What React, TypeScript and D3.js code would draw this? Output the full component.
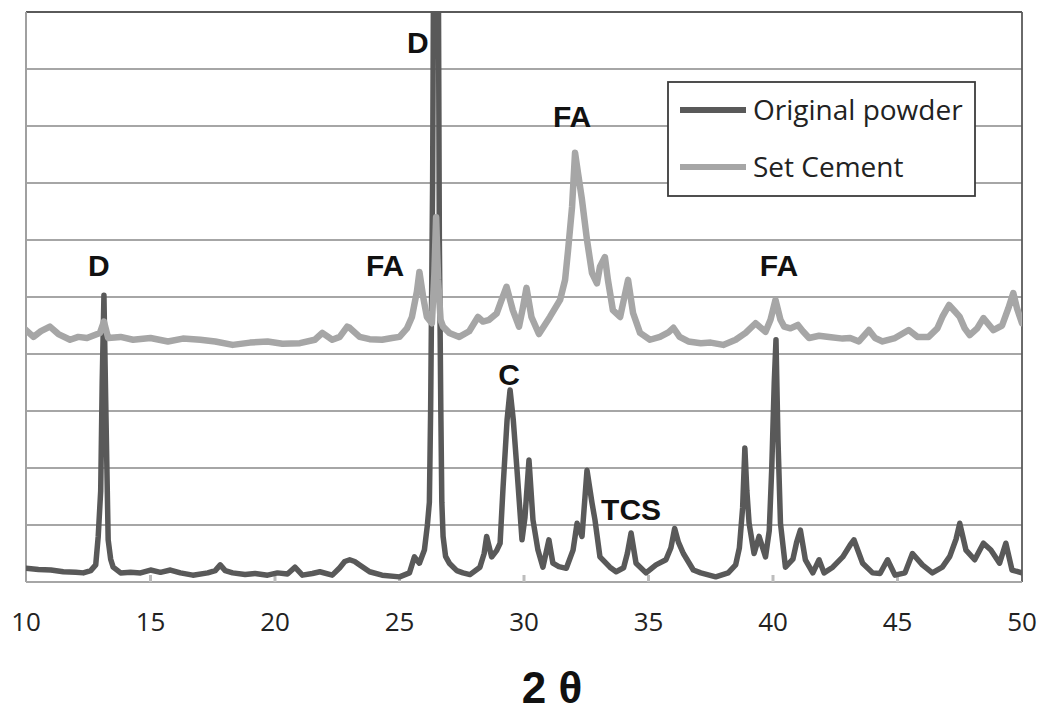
import React from "react";
import * as d3 from "d3";

const originalPowder: [number, number][] = [
  [10.0,0.24],[10.5,0.22],[11.0,0.21],[11.5,0.18],[12.0,0.17],[12.3,0.16],[12.6,0.2],[12.8,0.3],[12.9,0.8],[13.0,1.6],[13.06,3.5],[13.13,5.03],[13.2,3.2],[13.3,0.74],[13.4,0.4],[13.5,0.26],[13.8,0.16],[14.2,0.17],[14.6,0.16],[15.0,0.21],[15.4,0.17],[15.8,0.21],[16.2,0.16],[16.7,0.12],[17.3,0.16],[17.6,0.2],[17.8,0.3],[18.0,0.2],[18.3,0.16],[18.8,0.13],[19.2,0.15],[19.7,0.12],[20.1,0.16],[20.5,0.14],[20.8,0.26],[21.1,0.12],[21.5,0.15],[21.8,0.18],[22.3,0.12],[22.6,0.25],[22.8,0.36],[23.0,0.39],[23.2,0.36],[23.4,0.3],[23.8,0.18],[24.3,0.12],[25.0,0.09],[25.4,0.16],[25.6,0.44],[25.8,0.33],[26.0,0.56],[26.12,1.0],[26.2,1.4],[26.25,3],[26.33,7],[26.38,12],[26.55,12],[26.6,6],[26.66,3],[26.7,1.4],[26.75,0.8],[26.85,0.45],[27.0,0.33],[27.3,0.2],[27.55,0.16],[27.83,0.13],[28.23,0.26],[28.4,0.5],[28.5,0.8],[28.7,0.44],[28.9,0.55],[29.04,0.68],[29.16,1.67],[29.32,2.84],[29.44,3.37],[29.57,2.84],[29.72,1.96],[29.92,0.74],[30.04,1.14],[30.2,2.14],[30.36,1.09],[30.56,0.56],[30.76,0.26],[31.0,0.74],[31.16,0.33],[31.4,0.27],[31.7,0.24],[31.97,0.56],[32.13,1.03],[32.33,0.8],[32.53,1.96],[32.73,1.39],[32.85,1.09],[33.05,0.44],[33.45,0.26],[33.7,0.18],[34.0,0.25],[34.15,0.5],[34.3,0.86],[34.5,0.33],[34.9,0.16],[35.3,0.3],[35.7,0.39],[35.9,0.6],[36.05,0.94],[36.2,0.7],[36.4,0.5],[36.8,0.21],[37.1,0.16],[37.7,0.09],[38.2,0.16],[38.5,0.3],[38.65,0.6],[38.78,1.3],[38.87,2.35],[38.95,1.6],[39.04,1.03],[39.24,0.5],[39.44,0.8],[39.7,0.44],[39.85,0.9],[39.95,2.0],[40.05,3.5],[40.12,4.25],[40.2,2.5],[40.3,1.03],[40.5,0.26],[40.8,0.4],[40.95,0.7],[41.1,0.91],[41.3,0.39],[41.6,0.16],[41.85,0.39],[42.05,0.16],[42.4,0.26],[42.8,0.44],[43.1,0.65],[43.25,0.74],[43.6,0.33],[44.0,0.16],[44.3,0.15],[44.6,0.39],[44.9,0.12],[45.3,0.16],[45.6,0.5],[46.0,0.3],[46.4,0.16],[46.8,0.26],[47.1,0.45],[47.35,0.75],[47.5,1.03],[47.75,0.56],[48.1,0.39],[48.45,0.68],[48.75,0.56],[49.1,0.33],[49.35,0.68],[49.6,0.21],[50.0,0.16]
];

const setCement: [number, number][] = [
  [10.0,4.42],[10.3,4.3],[10.6,4.4],[10.96,4.48],[11.3,4.35],[11.77,4.25],[12.1,4.3],[12.45,4.28],[12.97,4.37],[13.13,4.57],[13.3,4.28],[13.8,4.3],[14.3,4.25],[15.0,4.28],[15.7,4.22],[16.3,4.27],[17.0,4.25],[17.6,4.22],[18.3,4.16],[19.0,4.2],[19.7,4.22],[20.3,4.18],[21.0,4.19],[21.6,4.25],[21.9,4.37],[22.3,4.25],[22.6,4.3],[22.9,4.48],[23.0,4.46],[23.4,4.3],[23.8,4.26],[24.3,4.25],[24.7,4.28],[25.0,4.3],[25.3,4.45],[25.5,4.65],[25.7,5.1],[25.8,5.44],[25.95,5.0],[26.1,4.65],[26.3,4.54],[26.4,5.4],[26.47,6.4],[26.55,5.3],[26.65,4.6],[26.75,4.48],[27.0,4.37],[27.4,4.3],[27.8,4.4],[28.15,4.65],[28.35,4.57],[28.6,4.6],[28.9,4.71],[29.1,4.95],[29.3,5.18],[29.55,4.77],[29.8,4.48],[29.95,4.8],[30.1,5.16],[30.3,4.65],[30.6,4.35],[31.04,4.65],[31.45,4.95],[31.65,5.3],[31.77,5.82],[31.93,6.58],[32.05,7.53],[32.17,7.17],[32.33,6.7],[32.53,6.0],[32.73,5.42],[32.93,5.24],[33.05,5.53],[33.25,5.7],[33.37,5.3],[33.57,4.77],[33.86,4.65],[34.18,5.3],[34.38,4.72],[34.66,4.37],[35.06,4.25],[35.46,4.3],[35.8,4.38],[36.0,4.46],[36.25,4.3],[36.6,4.22],[37.1,4.19],[37.5,4.2],[38.0,4.16],[38.5,4.25],[38.9,4.37],[39.3,4.54],[39.7,4.39],[39.9,4.6],[40.1,4.95],[40.3,4.6],[40.45,4.48],[40.7,4.45],[41.0,4.51],[41.2,4.4],[41.45,4.28],[41.85,4.32],[42.25,4.3],[42.8,4.27],[43.1,4.28],[43.45,4.22],[43.85,4.42],[44.1,4.28],[44.4,4.22],[44.9,4.28],[45.45,4.42],[45.8,4.3],[46.25,4.3],[46.6,4.45],[46.8,4.65],[47.07,4.86],[47.3,4.75],[47.5,4.65],[47.7,4.45],[47.9,4.33],[48.2,4.45],[48.45,4.63],[48.85,4.42],[49.2,4.5],[49.45,4.8],[49.65,5.07],[49.8,4.8],[50.0,4.54]
];

const xTicks = [10, 15, 20, 25, 30, 35, 40, 45, 50];
const yGrid = [1, 2, 3, 4, 5, 6, 7, 8, 9];

const annotations: { label: string; x: number; y: number }[] = [
  { label: "D", x: 12.93, y: 5.37 },
  { label: "D", x: 25.74, y: 9.28 },
  { label: "FA", x: 31.93, y: 7.98 },
  { label: "FA", x: 24.42, y: 5.37 },
  { label: "FA", x: 40.24, y: 5.37 },
  { label: "C", x: 29.4, y: 3.46 },
  { label: "TCS", x: 34.3, y: 1.09 },
];

const seriesNames = ["Original powder", "Set Cement"];
const seriesColors = ["#595959", "#a6a6a6"];

export default function App() {
  const W = 1046, H = 713;
  const left = 26, right = 1022, top = 12, bottom = 582;
  const x = d3.scaleLinear().domain([10, 50]).range([left, right]);
  const y = d3.scaleLinear().domain([0, 10]).range([bottom, top]);
  const line = d3.line<[number, number]>().x(d => x(d[0])).y(d => y(d[1])).curve(d3.curveLinear);

  const annFont = "'Liberation Sans', Arial, sans-serif";
  const txtFont = "'Open Sans', sans-serif";

  return (
    <svg width={W} height={H} style={{ position: "absolute", left: 0, top: 0, background: "#fff" }}>
      <defs>
        <clipPath id="plot">
          <rect x={left} y={top} width={right - left} height={bottom - top} />
        </clipPath>
      </defs>
      <rect x={0} y={0} width={W} height={H} fill="#fff" />
      {yGrid.map(v => (
        <line key={v} x1={left} x2={right} y1={y(v)} y2={y(v)} stroke="#a6a6a6" strokeWidth={2} />
      ))}
      <line x1={left} x2={right} y1={top} y2={top} stroke="#5a5a5a" strokeWidth={1.8} />
      <line x1={right} x2={right} y1={top} y2={bottom} stroke="#5a5a5a" strokeWidth={1.8} />
      <line x1={left} x2={left} y1={top} y2={bottom} stroke="#a0a0a0" strokeWidth={2} />
      <line x1={left} x2={right} y1={bottom} y2={bottom} stroke="#a6a6a6" strokeWidth={2} />
      {xTicks.slice(1, -1).map(t => (
        <line key={t} x1={x(t)} x2={x(t)} y1={bottom} y2={bottom - 7} stroke="#bdbdbd" strokeWidth={3} />
      ))}
      <g clipPath="url(#plot)">
        <path d={line(originalPowder) || ""} fill="none" stroke={seriesColors[0]} strokeWidth={5.5} strokeLinejoin="round" strokeLinecap="round" />
        <path d={line(setCement) || ""} fill="none" stroke={seriesColors[1]} strokeWidth={6.5} strokeLinejoin="round" strokeLinecap="round" />
      </g>
      {xTicks.map(t => (
        <text key={t} x={x(t)} y={631} textAnchor="middle" fontFamily={txtFont} fontSize={26} fill="#222">
          {t}
        </text>
      ))}
      {annotations.map((a, i) => (
        <text key={i} x={x(a.x)} y={y(a.y)} textAnchor="middle" fontFamily={annFont} fontWeight="bold" fontSize={30} fill="#111">
          {a.label}
        </text>
      ))}
      <text x={552} y={703} textAnchor="middle" fontFamily={annFont} fontWeight="bold" fontSize={44} fill="#111">
        2 θ
      </text>
      <rect x={668} y={82} width={307} height={114} fill="#fff" stroke="#3c3c3c" strokeWidth={1.8} />
      {seriesNames.map((n, i) => (
        <g key={n}>
          <line x1={680} x2={746} y1={110 + i * 57} y2={110 + i * 57} stroke={seriesColors[i]} strokeWidth={6} />
          <text x={753} y={119.5 + i * 57} fontFamily={txtFont} fontSize={28} fill="#222">
            {n}
          </text>
        </g>
      ))}
    </svg>
  );
}
